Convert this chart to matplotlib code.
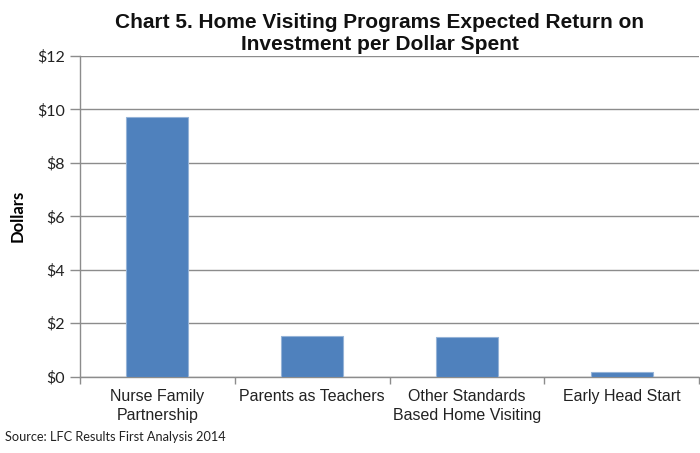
import matplotlib
matplotlib.use("Agg")
import matplotlib.pyplot as plt
from matplotlib.ticker import FixedLocator, NullFormatter

categories = ["Nurse Family\nPartnership", "Parents as Teachers",
              "Other Standards\nBased Home Visiting", "Early Head Start"]
values = [9.72, 1.52, 1.49, 0.16]
ytick_vals = [0, 2, 4, 6, 8, 10, 12]
ytick_labels = ["$0", "$2", "$4", "$6", "$8", "$10", "$12"]

narrow = ["Liberation Sans Narrow", "Liberation Sans", "DejaVu Sans"]
calib = ["Lato", "DejaVu Sans"]

fig = plt.figure(figsize=(7.0, 4.53), dpi=100)
ax = fig.add_axes([80/700, 1-376.7/453, (699-80)/700, (376.7-56)/453])

x = list(range(len(categories)))
ax.bar(x, values, width=0.4, color="#4F81BD", edgecolor="#95B3D7", linewidth=0.8, zorder=3)

ax.set_xlim(-0.5, len(categories)-0.5)
ax.set_ylim(0, 12)
ax.set_yticks(ytick_vals)
ax.set_yticklabels(ytick_labels, fontfamily=calib, fontsize=11.5, color="#222222")
ax.yaxis.grid(True, color="#8C8C8C", linewidth=1.0, zorder=0)
ax.tick_params(axis="y", length=7, color="#8C8C8C", width=1, pad=4)

ax.set_xticks(x)
ax.set_xticklabels(categories, fontfamily=narrow, fontsize=11.5, color="#222222", linespacing=1.3)
ax.tick_params(axis="x", which="major", length=0, pad=9)
ax.xaxis.set_minor_locator(FixedLocator([i + 0.5 for i in range(-1, len(categories))]))
ax.xaxis.set_minor_formatter(NullFormatter())
ax.tick_params(axis="x", which="minor", length=5, color="#8C8C8C", width=1)

for s in ["top", "right"]:
    ax.spines[s].set_visible(False)
for s in ["left", "bottom"]:
    ax.spines[s].set_color("#8C8C8C")
    ax.spines[s].set_linewidth(1.0)

ax.set_ylabel("Dollars", fontfamily=calib, fontsize=12, fontweight="bold", labelpad=8)

fig.text(380/700, 1-33/453, "Chart 5. Home Visiting Programs Expected Return on\nInvestment per Dollar Spent",
         ha="center", va="center", fontfamily=narrow, fontsize=15, fontweight="bold",
         linespacing=1.2, color="#111111")
fig.text(5/700, 1-437/453, "Source: LFC Results First Analysis 2014", ha="left", va="center",
         fontfamily=calib, fontsize=9.2, color="#222222")

fig.savefig("out.png", dpi=100)
